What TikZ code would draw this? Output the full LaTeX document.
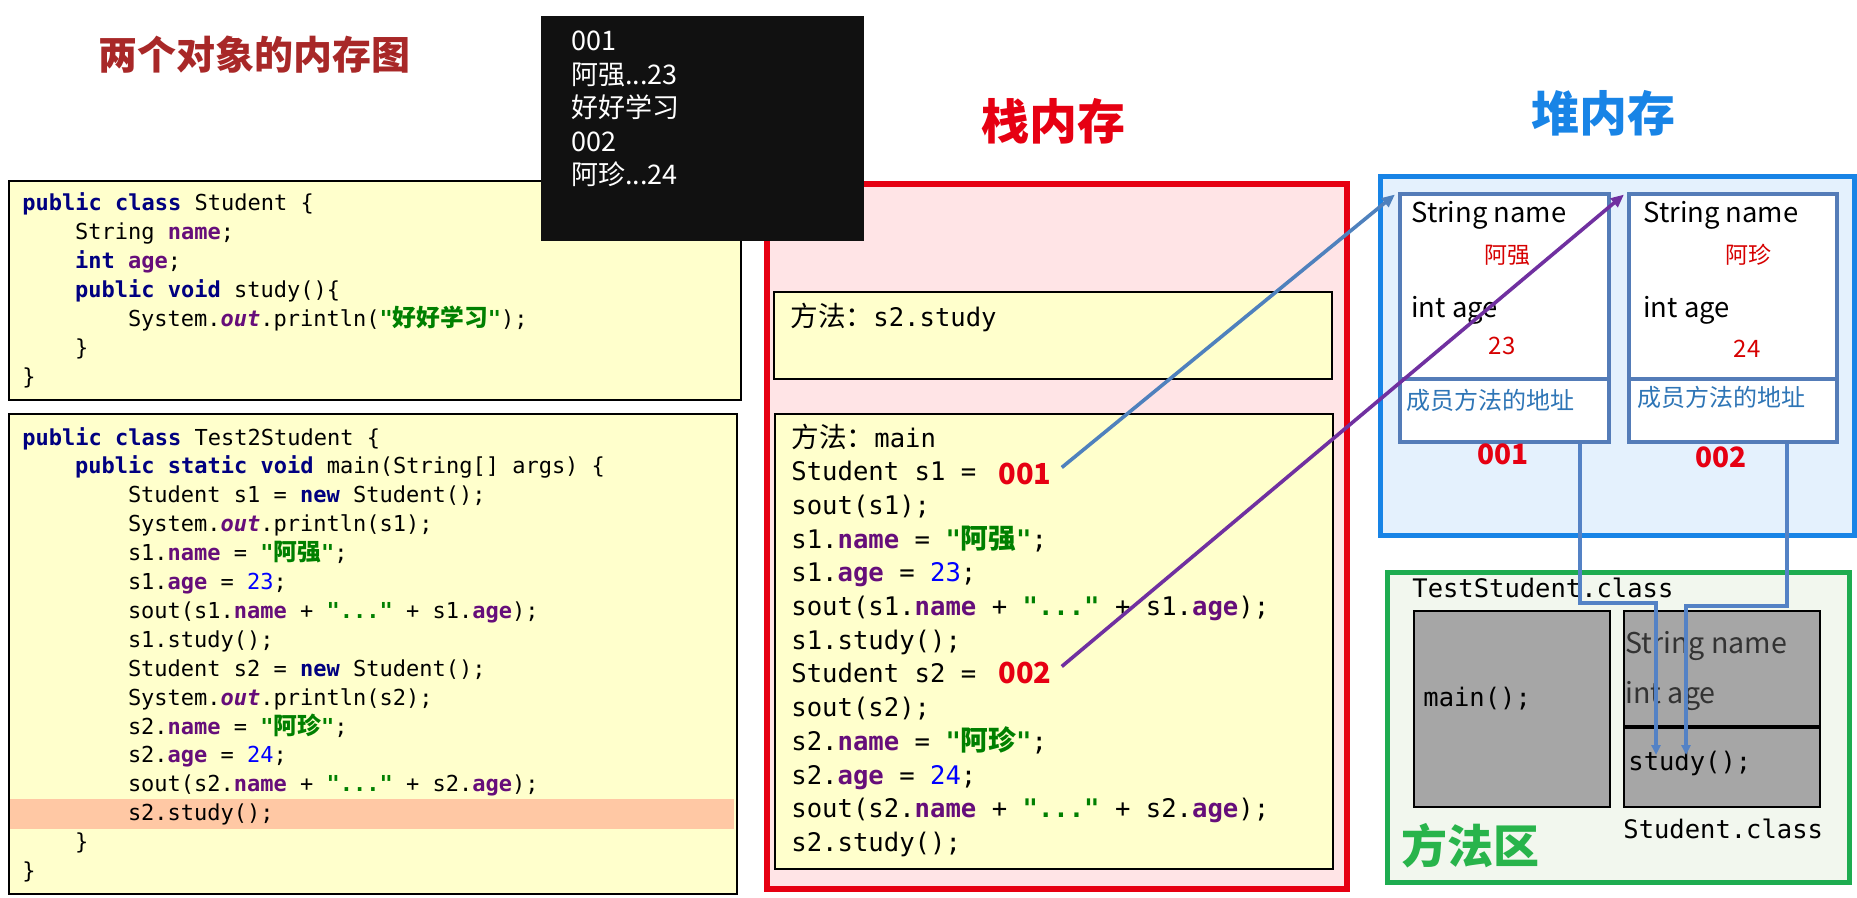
\documentclass[tikz,border=0pt]{standalone}
\usepackage{fontspec}
\setmainfont{Noto Sans CJK SC}
\newfontfamily\codefont{DejaVu Sans Mono}
\newfontfamily\cjk{Noto Sans CJK SC}[Scale=1.08]
\usetikzlibrary{arrows.meta, calc, positioning}

\definecolor{titlered}{RGB}{168,40,40}
\definecolor{stackred}{RGB}{230,0,18}
\definecolor{stackpink}{RGB}{255,228,230}
\definecolor{heapblue}{RGB}{24,132,230}
\definecolor{heapfill}{RGB}{228,241,253}
\definecolor{objblue}{RGB}{84,124,184}
\definecolor{valred}{RGB}{214,0,0}
\definecolor{addrtext}{RGB}{46,117,182}
\definecolor{areagreen}{RGB}{30,172,80}
\definecolor{areafill}{RGB}{242,247,238}
\definecolor{titlegreen}{RGB}{40,180,75}
\definecolor{greyfill}{RGB}{166,166,166}
\definecolor{codeyellow}{RGB}{255,255,204}
\definecolor{hlorange}{RGB}{255,200,164}
\definecolor{kwblue}{RGB}{0,0,128}
\definecolor{fldpurple}{RGB}{102,14,122}
\definecolor{strgreen}{RGB}{0,128,0}
\definecolor{numblue}{RGB}{0,0,255}
\definecolor{refblue}{RGB}{79,129,189}
\definecolor{refpurple}{RGB}{112,48,160}
\definecolor{linkblue}{RGB}{84,130,197}
\definecolor{consoleblack}{RGB}{17,17,17}

\newcommand\fsz[1]{\fontsize{#1pt}{#1pt}\selectfont}
\newcommand\zh[1]{{\cjk #1}}
\newcommand\kw[1]{\textcolor{kwblue}{\bfseries #1}}
\newcommand\fld[1]{\textcolor{fldpurple}{\bfseries #1}}
\newcommand\outf{\textcolor{fldpurple}{\bfseries\itshape out}}
\newcommand\jstr[1]{\textcolor{strgreen}{\bfseries #1}}
\newcommand\jnum[1]{\textcolor{numblue}{#1}}
\newcommand\indt{\hspace*{2.4em}}

\tikzset{
  codebox/.style={draw=black, line width=1pt, fill=codeyellow, anchor=north west, inner sep=0},
  codeline/.style={anchor=base west, inner sep=0, font=\codefont\fsz{11}},
  stackline/.style={anchor=base west, inner sep=0, font=\codefont\fsz{12.8}},
  classline/.style={anchor=base west, inner sep=0, font=\codefont\fsz{12.75}},
  memtitle/.style={anchor=base, inner sep=0, font=\bfseries\fsz{24}},
  objfield/.style={anchor=base west, inner sep=0, font=\fsz{13.7}},
  objval/.style={anchor=base, inner sep=0, text=valred, font=\fsz{12}},
  addr/.style={anchor=base, inner sep=0, text=stackred, font=\bfseries\fsz{14}},
  objbox/.style={draw=objblue, line width=2pt, fill=white, anchor=north west, minimum height=124pt, inner sep=0},
  greybox/.style={draw=black, line width=0.8pt, fill=greyfill, anchor=north west, minimum width=98pt, minimum height=98pt, inner sep=0},
  refarrow/.style={line width=1.8pt, -{Triangle[length=6.5pt,width=5.5pt]}, shorten >=2pt},
  linkarrow/.style={draw=linkblue, line width=1.6pt, -{Triangle[length=5pt,width=4.5pt]}},
}

\begin{document}
\begin{tikzpicture}[x=0.5pt, y=-0.5pt]
  \useasboundingbox (0,0) rectangle (1857,898);
  \node[anchor=base west, inner sep=0, text=titlered, font=\bfseries\fsz{19.5}] (title) at (98,70) {两个对象的内存图};

  % class Student
  \node[codebox, minimum width=366pt, minimum height=109.5pt] (cls) at (8,180) {};
  \foreach \txt [count=\i] in {
    {\kw{public class} Student \{},
    {\indt String \fld{name};},
    {\indt\kw{int} \fld{age};},
    {\indt\kw{public void} study()\{},
    {\indt\indt System.\outf.println(\jstr{"\zh{好好学习}"});},
    {\indt\}},
    {\}}}
    \node[codeline] (cls\i) at (22,{211+(\i-1)*29}) {\txt};

  % class Test2Student
  \node[codebox, minimum width=364pt, minimum height=240pt] (test) at (8,413) {};
  \node[fill=hlorange, anchor=north west, inner sep=0, minimum width=362pt, minimum height=15pt] (hl) at (10,799) {};
  \foreach \txt [count=\i] in {
    {\kw{public class} Test2Student \{},
    {\indt\kw{public static void} main(String[] args) \{},
    {\indt\indt Student s1 = \kw{new} Student();},
    {\indt\indt System.\outf.println(s1);},
    {\indt\indt s1.\fld{name} = \jstr{"\zh{阿强}"};},
    {\indt\indt s1.\fld{age} = \jnum{23};},
    {\indt\indt sout(s1.\fld{name} + \jstr{"..."} + s1.\fld{age});},
    {\indt\indt s1.study();},
    {\indt\indt Student s2 = \kw{new} Student();},
    {\indt\indt System.\outf.println(s2);},
    {\indt\indt s2.\fld{name} = \jstr{"\zh{阿珍}"};},
    {\indt\indt s2.\fld{age} = \jnum{24};},
    {\indt\indt sout(s2.\fld{name} + \jstr{"..."} + s2.\fld{age});},
    {\indt\indt s2.study();},
    {\indt\}},
    {\}}}
    \node[codeline] (test\i) at (22,{445+(\i-1)*28.9}) {\txt};

  % stack
  \node[draw=stackred, line width=3pt, fill=stackpink, anchor=north west, inner sep=0, minimum width=290pt, minimum height=352.5pt] (stack) at (764,181) {};
  \node[memtitle, text=stackred] (stacktitle) at (1053,140) {栈内存};
  \node[codebox, minimum width=279pt, minimum height=43.5pt] (frame1) at (773,291) {};
  \node[stackline] (f1) at (790,327) {\zh{方法：}s2.study};
  \node[codebox, minimum width=279pt, minimum height=227.5pt] (frame2) at (774,413) {};
  \foreach \txt [count=\i] in {
    {\zh{方法：}main},
    {Student s1 =},
    {sout(s1);},
    {s1.\fld{name} = \jstr{"\zh{阿强}"};},
    {s1.\fld{age} = \jnum{23};},
    {sout(s1.\fld{name} + \jstr{"..."} + s1.\fld{age});},
    {s1.study();},
    {Student s2 =},
    {sout(s2);},
    {s2.\fld{name} = \jstr{"\zh{阿珍}"};},
    {s2.\fld{age} = \jnum{24};},
    {sout(s2.\fld{name} + \jstr{"..."} + s2.\fld{age});},
    {s2.study();}}
    \node[stackline] (main\i) at (791,{447+(\i-1)*33.7}) {\txt};
  \node[addr, anchor=base west, font=\bfseries\fsz{14.5}] (a1) at (998,484) {001};
  \node[addr, anchor=base west, font=\bfseries\fsz{14.5}] (a2) at (998,683) {002};

  % console output
  \node[fill=consoleblack, anchor=north west, inner sep=0, minimum width=161.5pt, minimum height=112.5pt] (console) at (541,16) {};
  \foreach \t [count=\i] in {{001}, {{阿强...23}}, {好好学习}, {002}, {{阿珍...24}}}
    \node[anchor=base west, inner sep=0, text=white, font=\fsz{13.5}] (out\i) at (571,{51+(\i-1)*33.5}) {\t};

  % heap
  \node[draw=heapblue, line width=2.5pt, fill=heapfill, anchor=north west, inner sep=0, minimum width=237.25pt, minimum height=179pt] (heap) at (1377.5,174.5) {};
  \node[memtitle, text=heapblue] (heaptitle) at (1603,132) {堆内存};
  \node[objbox, minimum width=104.5pt] (obj1) at (1398,192) {};
  \node[objbox, minimum width=104pt] (obj2) at (1627,192) {};
  \draw[draw=objblue, line width=2pt] ([yshift=32.5pt]obj1.south west) -- ([yshift=32.5pt]obj1.south east);
  \draw[draw=objblue, line width=2pt] ([yshift=32.5pt]obj2.south west) -- ([yshift=32.5pt]obj2.south east);
  \node[objfield] (name1) at (1411,223) {String name};
  \node[objval, font=\fsz{11.5}] (nv1) at (1507,264) {阿强};
  \node[objfield] (age1) at (1411,318) {int age};
  \node[objval] (av1) at (1502,355) {23};
  \node[objfield, text=addrtext, font=\fsz{12}] (m1) at (1406,409) {成员方法的地址};
  \node[addr] (h1) at (1503,465) {001};
  \node[objfield] (name2) at (1643,223) {String name};
  \node[objval, font=\fsz{11.5}] (nv2) at (1748,264) {阿珍};
  \node[objfield] (age2) at (1643,318) {int age};
  \node[objval] (av2) at (1747,358) {24};
  \node[objfield, text=addrtext, font=\fsz{12}] (m2) at (1637,407) {成员方法的地址};
  \node[addr] (h2) at (1721,467) {002};

  % method area
  \node[draw=areagreen, line width=2.5pt, fill=areafill, anchor=north west, inner sep=0, minimum width=231pt, minimum height=155pt] (area) at (1384.5,569.5) {};
  \node[classline] (tcls) at (1412,597) {TestStudent.class};
  \node[greybox] (mbox) at (1413,610) {};
  \node[greybox] (sbox) at (1623,610) {};
  \draw[line width=2pt] ([yshift=40.5pt]sbox.south west) -- ([yshift=40.5pt]sbox.south east);
  \node[classline] (mainm) at (1423,706) {main();};
  \node[objfield, text=black!80, font=\fsz{14.3}] (sname) at (1625,653) {String name};
  \node[objfield, text=black!80, font=\fsz{14.3}] (sage) at (1625,703) {int age};
  \node[classline] (studym) at (1628,770) {study();};
  \node[classline] (scls) at (1623,838) {Student.class};
  \node[anchor=base west, inner sep=0, text=titlegreen, font=\bfseries\fsz{23}] (areatitle) at (1401,863) {方法区};

  % object -> method
  \coordinate (in1) at (1656,755);
  \coordinate (in2) at (1686,755);
  \draw[linkarrow] ([xshift=91pt]obj1.south west) -- ++(0,159) -| (in1);
  \draw[linkarrow] ([xshift=80pt]obj2.south west) -- ++(0,162) -| (in2);

  % stack -> heap
  \draw[refarrow, draw=refblue, fill=refblue] ([shift={(5pt,3pt)}]a1.east) -- (obj1.north west);
  \draw[refarrow, draw=refpurple, fill=refpurple] ([shift={(5pt,3pt)}]a2.east) -- (obj2.north west);
\end{tikzpicture}
\end{document}
